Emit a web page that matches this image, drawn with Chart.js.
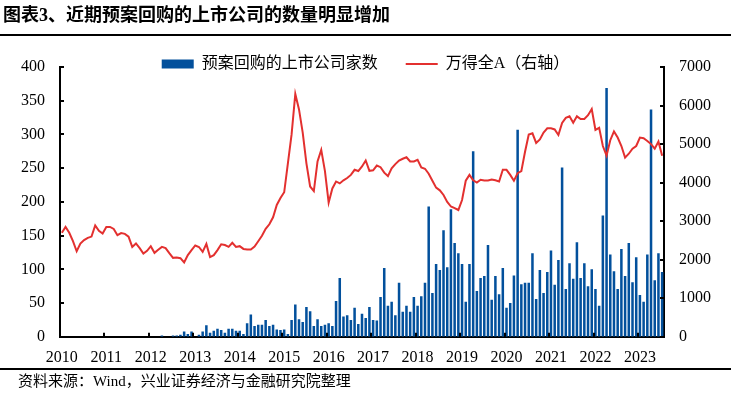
<!DOCTYPE html>
<html lang="zh-CN">
<head>
<meta charset="utf-8">
<title>近期预案回购的上市公司的数量明显增加</title>
<script src="https://cdn.jsdelivr.net/npm/chart.js@4/dist/chart.umd.min.js"></script>
<style>
  html, body { margin: 0; padding: 0; background: #fff; }
  #wrap { position: relative; width: 731px; height: 393px; overflow: hidden; }
  #chart { position: absolute; left: 0; top: 0; }
  .titulo {
    position: absolute; left: 3px; top: 4px; margin: 0;
    font: 700 18px "Liberation Serif", "Noto Sans CJK SC", serif;
    line-height: 22px; color: #000; white-space: nowrap;
  }
  .regua { position: absolute; left: 0; width: 731px; height: 2px; background: #000; }
  .fonte {
    position: absolute; left: 18px; top: 372px;
    font: 15px "Liberation Serif", "Noto Sans CJK SC", serif;
    line-height: 18px; color: #000; white-space: nowrap;
  }
</style>
</head>
<body>
<div id="wrap">
  <canvas id="chart" width="731" height="393"></canvas>
  <div class="titulo">图表3、近期预案回购的上市公司的数量明显增加</div>
  <div class="regua" style="top:34px"></div>
  <div class="regua" style="top:368px"></div>
  <div class="fonte">资料来源：Wind，兴业证券经济与金融研究院整理</div>
</div>
<script>
// ── Dados (mensal, 2010-01 a 2023-07) ─────────────────────────────────────────
const years = [2010, 2011, 2012, 2013, 2014, 2015, 2016, 2017, 2018, 2019, 2020, 2021, 2022, 2023];

// 预案回购的上市公司家数 (eixo esquerdo)
const buybackCount = [
  0, 0, 0, 0, 0, 0, 0, 0, 0, 0, 0, 0,                       // 2010
  0, 0, 0, 0, 0, 0, 0, 0, 0, 0, 0, 0,                       // 2011
  0, 0, 0, 2, 0, 0, 2, 2, 3, 8, 4, 8,                       // 2012
  0, 3, 8, 17, 6, 9, 12, 10, 6, 12, 12, 9,                  // 2013
  9, 4, 20, 33, 16, 18, 18, 25, 16, 18, 11, 10,             // 2014
  11, 4, 25, 48, 26, 22, 44, 38, 16, 26, 16, 18,            // 2015
  20, 16, 53, 87, 30, 32, 25, 43, 19, 34, 28, 44,           // 2016
  25, 24, 59, 102, 46, 52, 32, 80, 37, 46, 37, 59,          // 2017
  46, 60, 80, 193, 65, 108, 99, 158, 103, 189, 139, 124,    // 2018
  108, 52, 108, 275, 68, 87, 90, 136, 55, 90, 63, 102,      // 2019
  43, 50, 91, 307, 78, 80, 80, 124, 56, 99, 65, 96,         // 2020
  128, 77, 114, 251, 71, 109, 86, 140, 87, 109, 75, 100,    // 2021
  71, 46, 180, 369, 122, 97, 71, 130, 90, 139, 81, 118,     // 2022
  62, 52, 122, 337, 84, 124, 96,                            // 2023
];

// 万得全A (eixo direito)
const windA = [
  2700, 2850, 2700, 2480, 2220, 2420, 2510, 2566, 2600, 2890, 2750, 2680,   // 2010
  2850, 2850, 2800, 2636, 2690, 2670, 2600, 2333, 2421, 2300, 2160, 2230,   // 2011
  2351, 2178, 2260, 2333, 2300, 2170, 2049, 2060, 2040, 1930, 2119, 2250,   // 2012
  2369, 2330, 2204, 2411, 2067, 2119, 2250, 2400, 2380, 2333, 2440, 2333,   // 2013
  2351, 2280, 2266, 2266, 2340, 2480, 2620, 2800, 2920, 3100, 3420, 3600,   // 2014
  3750, 4500, 5250, 6300, 5900, 5300, 4500, 3900, 3780, 4550, 4850, 4300,   // 2015
  3480, 3850, 4030, 3980, 4060, 4120, 4200, 4333, 4300, 4419, 4574, 4307,   // 2016
  4320, 4444, 4400, 4260, 4170, 4370, 4480, 4574, 4620, 4659, 4548, 4548,   // 2017
  4591, 4393, 4360, 4230, 4050, 3870, 3800, 3680, 3500, 3380, 3340, 3290,   // 2018
  3550, 4050, 4200, 4060, 4000, 4075, 4057, 4057, 4080, 4060, 4031, 4333,   // 2019
  4333, 4200, 4049, 4246, 4300, 4800, 5250, 5280, 5030, 5120, 5300, 5408,   // 2020
  5408, 5380, 5237, 5550, 5680, 5720, 5555, 5720, 5650, 5650, 5750, 5910,   // 2021
  5367, 5420, 4950, 4700, 5100, 5330, 5170, 4950, 4650, 4750, 4880, 4950,   // 2022
  5168, 5150, 5080, 5000, 4880, 5065, 4700,                                 // 2023
];

// rótulos mensais
const labels = [];
years.forEach(y => {
  for (let m = 1; m <= 12; m++) {
    if (labels.length < buybackCount.length) labels.push(`${y}-${String(m).padStart(2, '0')}`);
  }
});

// ── Estilo ────────────────────────────────────────────────────────────────────
const AZUL  = '#02509C';
const VERM  = '#E3302F';
const FONTE = '"Liberation Serif", "Noto Sans CJK SC", serif';

// ── Marcas de escala voltadas para dentro ─────────────────────────────────────
const tickMarks = {
  id: 'tickMarks',
  afterDraw(chart) {
    const { ctx, chartArea: a, scales: { x, y, y1 } } = chart;
    const half = (a.right - a.left) / labels.length / 2;
    ctx.save();
    ctx.strokeStyle = '#000';
    ctx.lineWidth = 2;
    ctx.beginPath();
    y.ticks.forEach(t => {
      const py = Math.round(y.getPixelForValue(t.value));
      ctx.moveTo(a.left, py); ctx.lineTo(a.left + 4, py);
    });
    y1.ticks.forEach(t => {
      const py = Math.round(y1.getPixelForValue(t.value));
      ctx.moveTo(a.right - 4, py); ctx.lineTo(a.right, py);
    });
    labels.forEach((l, i) => {
      if (i === 0 || !l.endsWith('-01')) return;
      const px = Math.round(x.getPixelForValue(i) - half);
      ctx.moveTo(px, a.bottom); ctx.lineTo(px, a.bottom - 4);
    });
    ctx.stroke();
    ctx.restore();
  },
};

// legenda um pouco mais baixa, sem mexer na área do gráfico
const legendShift = {
  id: 'legendShift',
  afterLayout(chart) {
    chart.legend.top += 1;
    chart.legend.bottom += 8;
  },
};

// ── Gráfico ───────────────────────────────────────────────────────────────────
new Chart(document.getElementById('chart'), {
  type: 'bar',
  data: {
    labels,
    datasets: [
      {
        label: '预案回购的上市公司家数',
        data: buybackCount,
        backgroundColor: AZUL,
        borderWidth: 0,
        categoryPercentage: 1,
        barPercentage: 0.68,
        pointStyle: 'rect',
        yAxisID: 'y',
        order: 1,
      },
      {
        type: 'line',
        label: '万得全A（右轴）',
        data: windA,
        borderColor: VERM,
        backgroundColor: VERM,
        borderWidth: 2,
        pointRadius: 0,
        pointStyle: 'line',
        tension: 0,
        yAxisID: 'y1',
        order: 0,
      },
    ],
  },
  options: {
    responsive: false,
    animation: false,
    devicePixelRatio: 1,
    layout: { padding: { top: 27, left: 0, right: 0, bottom: 15 } },
    plugins: {
      tooltip: { enabled: false },
      legend: {
        position: 'top',
        maxHeight: 40,
        labels: {
          usePointStyle: true,
          pointStyleWidth: 32,
          boxHeight: 9,
          padding: 28,
          color: '#000',
          font: { family: FONTE, size: 16 },
          sort: (a, b) => a.datasetIndex - b.datasetIndex,
        },
      },
    },
    scales: {
      x: {
        grid: { display: false, drawTicks: false },
        border: { display: true, color: '#000', width: 2 },
        ticks: {
          autoSkip: false,
          maxRotation: 0,
          minRotation: 0,
          padding: 11,
          color: '#000',
          font: { family: FONTE, size: 16 },
          callback: (v, i) => (labels[i].endsWith('-01') ? labels[i].slice(0, 4) : ''),
        },
      },
      y: {
        position: 'left',
        min: 0, max: 400,
        grid: { display: false, drawTicks: false },
        border: { display: true, color: '#000', width: 2 },
        ticks: { stepSize: 50, padding: 15, color: '#000', font: { family: FONTE, size: 16 } },
        afterFit: s => { s.width = 60; },
      },
      y1: {
        position: 'right',
        min: 0, max: 7000,
        grid: { display: false, drawTicks: false },
        border: { display: true, color: '#000', width: 2 },
        ticks: {
          stepSize: 1000, padding: 15, color: '#000', font: { family: FONTE, size: 16 },
          callback: v => String(v),
        },
        afterFit: s => { s.width = 67; },
      },
    },
  },
  plugins: [tickMarks, legendShift],
});
</script>
</body>
</html>
